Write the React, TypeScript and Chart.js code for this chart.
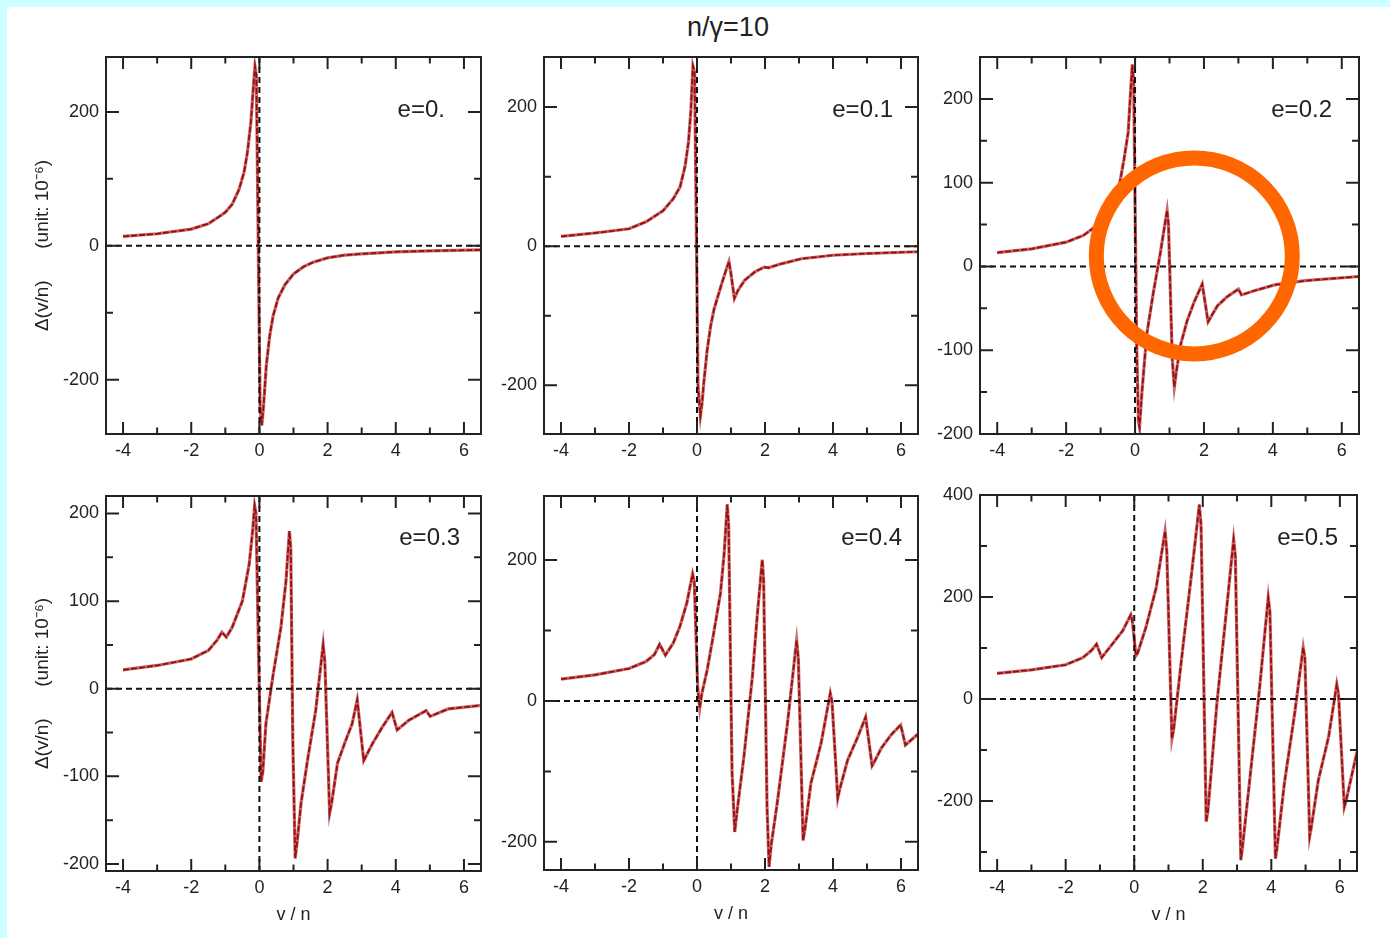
import React, { useEffect, useRef } from 'react';
import { Chart, registerables } from 'chart.js';

Chart.register(...registerables);
Chart.defaults.font.family = '"Liberation Sans", Arial, sans-serif';

// ---------- data ----------
const xTicks = [-4, -3, -2, -1, 0, 1, 2, 3, 4, 5, 6];
const xLabeled = [-4, -2, 0, 2, 4, 6];

const yTicksA = [-200, -100, 0, 100, 200];
const yLabeledA = [-200, 0, 200];
const yTicksB = [-200, -150, -100, -50, 0, 50, 100, 150, 200];
const yLabeledB = [-200, -100, 0, 100, 200];
const yTicksC = [-300, -200, -100, 0, 100, 200, 300, 400];
const yLabeledC = [-200, 0, 200, 400];

const panelLabels = ['e=0.', 'e=0.1', 'e=0.2', 'e=0.3', 'e=0.4', 'e=0.5'];
const mainTitle = 'n/γ=10';
const yAxisTitle = 'Δ(v/n)      (unit: 10⁻⁶)';
const xAxisTitle = 'v / n';

const e0X = [-4, -3, -2, -1.5, -1.2, -1, -0.8, -0.6, -0.45, -0.35, -0.25, -0.18, -0.13, -0.09, 0.02, 0.07, 0.12, 0.2, 0.3, 0.4, 0.55, 0.75, 1, 1.3, 1.6, 2, 2.5, 3, 4, 5, 6.5];
const e0Y = [14, 18, 25, 33, 43, 50, 62, 84, 110, 140, 185, 235, 268, 255, -240, -268, -240, -180, -135, -105, -78, -58, -42, -31, -24, -18, -14, -12, -9, -7.5, -6];

const e1X = [-4, -3, -2, -1.5, -1, -0.7, -0.5, -0.35, -0.25, -0.18, -0.12, -0.07, 0.03, 0.1, 0.15, 0.2, 0.3, 0.4, 0.5, 0.7, 0.85, 0.94, 1.0, 1.1, 1.2, 1.4, 1.7, 1.98, 2.1, 2.5, 3.07, 4, 5, 6.5];
const e1Y = [14, 19, 25, 35, 51, 68, 85, 115, 150, 195, 259, 250, -200, -244, -225, -196, -149, -115, -91, -58, -35, -22, -40, -75, -64, -49, -37, -30, -31, -25, -18, -13, -10.5, -8];

const e2X = [-4, -3, -2, -1.5, -1.2, -1, -0.7, -0.46, -0.32, -0.2, -0.12, -0.08, -0.04, 0.05, 0.1, 0.13, 0.2, 0.34, 0.54, 0.73, 0.93, 0.97, 1.08, 1.14, 1.2, 1.32, 1.51, 1.71, 1.95, 2.12, 2.39, 2.68, 3.0, 3.09, 3.46, 4.05, 4.93, 6.5];
const e2Y = [16.5, 21, 29, 37, 46, 54, 72, 96, 128, 160, 215, 241, 220, -100, -185, -192, -150, -81, -29, 15, 67, 50, -110, -144, -125, -94, -65, -43, -21, -66, -47, -36, -27, -34, -29, -22, -17, -12];

const e3X = [-4, -3, -2, -1.5, -1.25, -1.1, -0.97, -0.8, -0.5, -0.3, -0.2, -0.14, -0.1, -0.03, 0.05, 0.1, 0.19, 0.39, 0.63, 0.78, 0.88, 0.92, 0.98, 1.05, 1.12, 1.22, 1.41, 1.65, 1.87, 1.92, 2.06, 2.12, 2.29, 2.53, 2.72, 2.87, 3.06, 3.31, 3.6, 3.89, 4.04, 4.38, 4.89, 5.01, 5.54, 6.5];
const e3Y = [21.6, 26.6, 34, 43.6, 55, 64.5, 59, 70, 100, 142, 180, 209, 200, 50, -106, -95, -40, 13, 70, 123, 180, 160, -60, -193.5, -170, -131, -82, -25, 50.5, 30, -142, -130, -85, -59, -40, -12.5, -82, -63, -44, -27, -47, -36, -25, -31.5, -23, -19];

const e4X = [-4, -3, -2, -1.5, -1.25, -1.1, -0.93, -0.7, -0.5, -0.3, -0.13, -0.08, 0.02, 0.08, 0.14, 0.3, 0.49, 0.69, 0.8, 0.89, 0.93, 1.03, 1.11, 1.17, 1.38, 1.63, 1.77, 1.92, 1.96, 2.06, 2.12, 2.18, 2.36, 2.66, 2.93, 2.98, 3.12, 3.18, 3.35, 3.65, 3.92, 3.97, 4.14, 4.2, 4.43, 4.73, 4.96, 5.15, 5.2, 5.42, 5.71, 5.99, 6.13, 6.5];
const e4Y = [31, 37, 46, 56, 66, 80.5, 65, 82, 106, 139, 180.5, 170, 20, -10.4, 10, 44, 96, 153, 210, 279, 250, -100, -186, -160, -79, 35, 120, 200.5, 170, -150, -235.5, -205, -145, -32, 86, 60, -198, -180, -117, -60, 11, 0, -138, -125, -84, -51, -23, -92, -88, -67, -48, -34, -62.5, -47];

const e5X = [-4, -3, -2, -1.5, -1.25, -1.1, -0.95, -0.64, -0.34, -0.1, -0.05, 0.05, 0.1, 0.34, 0.64, 0.9, 0.95, 1.1, 1.15, 1.43, 1.67, 1.9, 1.95, 2.1, 2.15, 2.41, 2.66, 2.9, 2.95, 3.11, 3.16, 3.4, 3.65, 3.91, 3.96, 4.12, 4.17, 4.38, 4.68, 4.93, 4.98, 5.12, 5.17, 5.37, 5.67, 5.91, 5.96, 6.13, 6.18, 6.5];
const e5Y = [50, 57, 67, 81, 95, 107.5, 81, 107.5, 133.5, 165, 150, 85, 90, 140, 218, 329, 290, -78, -60, 107.5, 244, 381, 340, -241, -220, -10, 153, 313, 280, -316, -290, -140, 16, 199, 170, -313, -290, -166, -29, 101, 80, -269, -250, -160, -75, 29, 10, -212, -200, -104];

// circle annotation (data coords of centre) for panel e=0.2
const circleCenter = [1.72, 12.6];

// ---------- layout ----------
type P = any;
const panels: P[] = [
  { xs: e0X, ys: e0Y, yMin: -281, yMax: 282, yTicks: yTicksA, yLab: yLabeledA, label: panelLabels[0], L: 106, T: 57, R: 481, B: 434, padL: 98, padT: 30, padR: 8, padB: 40, lx: 445, ly: 117.3, yTitle: true, xTitle: false },
  { xs: e1X, ys: e1Y, yMin: -270, yMax: 272, yTicks: yTicksA, yLab: yLabeledA, label: panelLabels[1], L: 544, T: 57, R: 918, B: 434, padL: 56, padT: 30, padR: 8, padB: 40, lx: 893, ly: 116.6, yTitle: false, xTitle: false },
  { xs: e2X, ys: e2Y, yMin: -200, yMax: 250, yTicks: yTicksB, yLab: yLabeledB, label: panelLabels[2], L: 980, T: 57, R: 1359, B: 434, padL: 56, padT: 30, padR: 8, padB: 40, lx: 1332, ly: 116.6, yTitle: false, xTitle: false, circle: true },
  { xs: e3X, ys: e3Y, yMin: -208, yMax: 220, yTicks: yTicksB, yLab: yLabeledB, label: panelLabels[3], L: 106, T: 496, R: 481, B: 871, padL: 98, padT: 22, padR: 8, padB: 62, lx: 460, ly: 545.3, yTitle: true, xTitle: true },
  { xs: e4X, ys: e4Y, yMin: -240, yMax: 291, yTicks: yTicksA, yLab: yLabeledA, label: panelLabels[4], L: 544, T: 496, R: 918, B: 870, padL: 56, padT: 22, padR: 8, padB: 62, lx: 902, ly: 545.3, yTitle: false, xTitle: true },
  { xs: e5X, ys: e5Y, yMin: -337.5, yMax: 400, yTicks: yTicksC, yLab: yLabeledC, label: panelLabels[5], L: 980, T: 495, R: 1357, B: 871, padL: 56, padT: 22, padR: 8, padB: 62, lx: 1338, ly: 545.3, yTitle: false, xTitle: true },
];

const INK = '#222';

function Panel({ p }: { p: P }) {
  const ref = useRef<HTMLCanvasElement>(null);
  const cw = p.R - p.L + p.padL + p.padR;
  const ch = p.B - p.T + p.padT + p.padB;
  const cl = p.L - p.padL;
  const ct = p.T - p.padT;

  useEffect(() => {
    const pts = p.xs.map((x: number, i: number) => ({ x, y: p.ys[i] }));
    const framePlugin = {
      id: 'frame',
      afterDatasetsDraw(chart: any) {
        const { ctx, chartArea } = chart;
        const { left, top, right, bottom } = chartArea;
        const xs = chart.scales.x;
        const ys = chart.scales.y;
        ctx.save();
        // dashed zero lines
        ctx.strokeStyle = '#111';
        ctx.lineWidth = 2;
        ctx.setLineDash([6, 4]);
        const y0 = ys.getPixelForValue(0);
        const x0 = xs.getPixelForValue(0);
        ctx.beginPath();
        ctx.moveTo(left, y0);
        ctx.lineTo(right, y0);
        ctx.stroke();
        ctx.beginPath();
        ctx.moveTo(x0, top);
        ctx.lineTo(x0, bottom);
        ctx.stroke();
        ctx.setLineDash([]);
        // inward ticks
        ctx.strokeStyle = INK;
        ctx.lineWidth = 2;
        ctx.beginPath();
        xs.ticks.forEach((t: any) => {
          const px = xs.getPixelForValue(t.value);
          const len = xLabeled.includes(t.value) ? 12 : 6.5;
          ctx.moveTo(px, bottom);
          ctx.lineTo(px, bottom - len);
          ctx.moveTo(px, top);
          ctx.lineTo(px, top + len);
        });
        ys.ticks.forEach((t: any) => {
          const py = ys.getPixelForValue(t.value);
          const len = p.yLab.includes(t.value) ? 13 : 7;
          ctx.moveTo(left, py);
          ctx.lineTo(left + len, py);
          ctx.moveTo(right, py);
          ctx.lineTo(right - len, py);
        });
        ctx.stroke();
        // frame
        ctx.strokeRect(left, top, right - left, bottom - top);
        // panel label
        ctx.fillStyle = INK;
        ctx.font = '24px "Liberation Sans", Arial, sans-serif';
        ctx.textAlign = 'right';
        ctx.textBaseline = 'alphabetic';
        ctx.fillText(p.label, p.lx - cl, p.ly - ct);
        // orange circle annotation
        if (p.circle) {
          ctx.strokeStyle = '#ff6600';
          ctx.lineWidth = 15;
          ctx.beginPath();
          ctx.arc(xs.getPixelForValue(circleCenter[0]), ys.getPixelForValue(circleCenter[1]), 98, 0, Math.PI * 2);
          ctx.stroke();
        }
        ctx.restore();
      },
    };

    const chart = new Chart(ref.current as HTMLCanvasElement, {
      type: 'line',
      data: {
        datasets: [
          { data: pts, borderColor: '#9c0c0c', borderWidth: 1.8, borderDash: [6, 2], pointRadius: 0, tension: 0, fill: false, order: 0 },
          { data: pts, borderColor: '#c46a6a', borderWidth: 3.2, pointRadius: 0, tension: 0, fill: false, order: 1 },
        ],
      },
      options: {
        animation: false,
        responsive: false,
        events: [],
        layout: { padding: { left: 0, top: p.padT, right: p.padR, bottom: 0 } },
        plugins: { legend: { display: false }, tooltip: { enabled: false } },
        scales: {
          x: {
            type: 'linear',
            min: -4.5,
            max: 6.5,
            grid: { display: false, drawTicks: false, tickLength: 0 },
            border: { display: false },
            afterBuildTicks: (s: any) => { s.ticks = xTicks.map((v) => ({ value: v })); },
            afterFit: (s: any) => { s.height = p.padB; },
            ticks: {
              callback: (v: any) => (xLabeled.includes(v) ? String(v) : ''),
              padding: 6,
              maxRotation: 0,
              autoSkip: false,
              color: INK,
              font: { size: 18 },
            },
            title: { display: p.xTitle, text: xAxisTitle, color: INK, font: { size: 18 }, padding: { top: 0, bottom: 7 } },
          },
          y: {
            type: 'linear',
            min: p.yMin,
            max: p.yMax,
            grid: { display: false, drawTicks: false, tickLength: 0 },
            border: { display: false },
            afterBuildTicks: (s: any) => { s.ticks = p.yTicks.map((v: number) => ({ value: v })); },
            afterFit: (s: any) => { s.width = p.padL; },
            ticks: {
              callback: (v: any) => (p.yLab.includes(v) ? String(v) : ''),
              padding: 7,
              autoSkip: false,
              color: INK,
              font: { size: 18 },
            },
            title: { display: p.yTitle, text: yAxisTitle, color: INK, font: { size: 19 }, padding: { top: 23, bottom: 0 } },
          },
        },
      } as any,
      plugins: [framePlugin],
    });
    return () => chart.destroy();
  }, []);

  return (
    <canvas
      ref={ref}
      width={cw}
      height={ch}
      style={{ position: 'absolute', left: cl, top: ct, width: cw, height: ch }}
    />
  );
}

export default function App() {
  useEffect(() => {
    document.body.style.margin = '0';
  }, []);
  return (
    <div style={{ position: 'absolute', left: 0, top: 0, width: 1390, height: 938, background: '#ffffff', overflow: 'hidden' }}>
      <div style={{ position: 'absolute', left: 0, top: 0, width: 1390, height: 7, background: '#ccffff' }} />
      <div style={{ position: 'absolute', left: 0, top: 0, width: 7, height: 938, background: '#ccffff' }} />
      <div
        style={{
          position: 'absolute',
          left: 0,
          top: 14,
          width: 1456,
          textAlign: 'center',
          fontFamily: '"Liberation Sans", Arial, sans-serif',
          fontSize: 27,
          lineHeight: '27px',
          color: INK,
        }}
      >
        {mainTitle}
      </div>
      {panels.map((p, i) => (
        <Panel key={i} p={p} />
      ))}
    </div>
  );
}
